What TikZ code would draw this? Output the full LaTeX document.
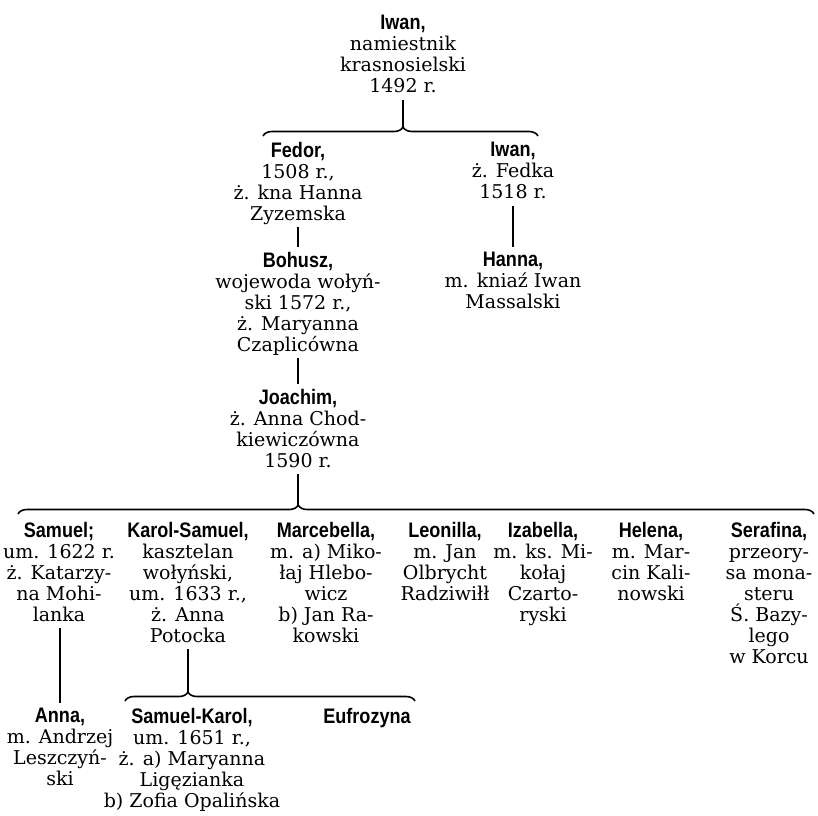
\documentclass[tikz,border=0pt]{standalone}
\usepackage{fontspec}
\setmainfont{DejaVu Serif}
\newfontfamily\namefont{Liberation Sans}[FakeStretch=0.86]
\usetikzlibrary{decorations.pathreplacing}

\newcommand{\nm}[1]{{\namefont\bfseries\fontsize{10.5pt}{10.5pt}\selectfont #1}}

\tikzset{
	person/.style={align=center, anchor=north, inner sep=0pt,
		font=\fontsize{9.5pt}{10.5pt}\selectfont,
		execute at begin node=\strut, execute at end node=\strut},
	link/.style={thick, shorten >=2.5pt},
	stem/.style={thick},
	kin/.style={thick, decorate, decoration={brace, amplitude=4.5pt, aspect=#1}}
}

\begin{document}
\begin{tikzpicture}[x=0.5pt, y=-0.5pt]
	% Frame
	\fill[white] (0,0) rectangle (818,815);
	\useasboundingbox (0,0) rectangle (818,815);

	% Nodes
	\node[person] (iwan) at (403,15) {\nm{Iwan,}\\namiestnik\\krasnosielski\\1492 r.};
	\node[person] (fedor) at (298,142) {\nm{Fedor,}\\1508 r.,\\ż. kna Hanna\\Zyzemska};
	\node[person] (iwanb) at (513,142) {\nm{Iwan,}\\ż. Fedka\\1518 r.};
	\node[person] (bohusz) at (298,252) {\nm{Bohusz,}\\wojewoda wołyń-\\ski 1572 r.,\\ż. Maryanna\\Czaplicówna};
	\node[person] (hanna) at (513,252) {\nm{Hanna,}\\m. kniaź Iwan\\Massalski};
	\node[person] (joachim) at (298,389) {\nm{Joachim,}\\ż. Anna Chod-\\kiewiczówna\\1590 r.};

	\node[person] (samuel) at (59,522) {\nm{Samuel;}\\um. 1622 r.\\ż. Katarzy-\\na Mohi-\\lanka};
	\node[person] (karol) at (188,522) {\nm{Karol-Samuel,}\\kasztelan\\wołyński,\\um. 1633 r.,\\ż. Anna\\Potocka};
	\node[person] (marcebella) at (326,522) {\nm{Marcebella,}\\m. a) Miko-\\łaj Hlebo-\\wicz\\b) Jan Ra-\\kowski};
	\node[person] (leonilla) at (445,522) {\nm{Leonilla,}\\m. Jan\\Olbrycht\\Radziwiłł};
	\node[person] (izabella) at (543,522) {\nm{Izabella,}\\m. ks. Mi-\\kołaj\\Czarto-\\ryski};
	\node[person] (helena) at (651,522) {\nm{Helena,}\\m. Mar-\\cin Kali-\\nowski};
	\node[person] (serafina) at (769,522) {\nm{Serafina,}\\przeory-\\sa mona-\\steru\\Ś. Bazy-\\lego\\w Korcu};

	\node[person] (anna) at (60,708) {\nm{Anna,}\\m. Andrzej\\Leszczyń-\\ski};
	\node[person] (samkarol) at (192,708) {\nm{Samuel-Karol,}\\um. 1651 r.,\\ż. a) Maryanna\\Ligęzianka\\b) Zofia Opalińska};
	\node[person] (eufrozyna) at (367,708) {\nm{Eufrozyna}};

	% Braces
	\coordinate (topL) at (263,136);
	\coordinate (topR) at (538,136);
	\coordinate (topT) at (403,127);
	\coordinate (midL) at (18,514);
	\coordinate (midR) at (814,514);
	\coordinate (midT) at (298,505);
	\coordinate (lowL) at (125,701);
	\coordinate (lowR) at (415,701);
	\coordinate (lowT) at (188,692);

	\draw[kin=0.509] (topL) -- (topR);
	\draw[kin=0.352] (midL) -- (midR);
	\draw[kin=0.217] (lowL) -- (lowR);

	% Lines
	\draw[stem] (iwan) -- (topT);
	\draw[link] (fedor) -- (bohusz);
	\draw[link] (bohusz) -- (joachim);
	\draw[link] (iwanb) -- (hanna);
	\draw[stem] (joachim) -- (midT);
	\draw[link] (samuel.south -| anna) -- (anna);
	\draw[stem] (karol) -- (lowT);
\end{tikzpicture}
\end{document}
